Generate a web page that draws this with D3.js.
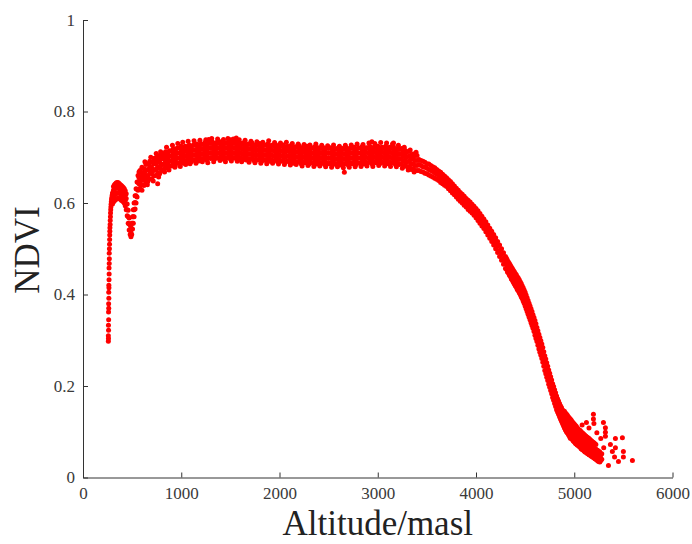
<!DOCTYPE html>
<html>
<head>
<meta charset="utf-8">
<script src="https://cdn.jsdelivr.net/npm/d3@7"></script>
<style>
  html, body { margin: 0; padding: 0; background: #fff; }
  svg { display: block; }
</style>
</head>
<body>
<svg id="chart" width="692" height="544"></svg>
<script>
// ---------- DATA ----------
const xTicks = [0, 1000, 2000, 3000, 4000, 5000, 6000];
const yTicks = [0, 0.2, 0.4, 0.6, 0.8, 1];
const xTitle = "Altitude/masl";
const yTitle = "NDVI";

// steep rise at the lowest altitudes: [altitude, NDVI]
const riseColumn = [
  [258,0.298],[259,0.304],[258,0.31],[260,0.322],[259,0.333],[261,0.345],[260,0.362],[262,0.37],
  [261,0.38],[263,0.392],[262,0.405],[264,0.415],[263,0.42],[265,0.432],[266,0.445],[265,0.458],
  [267,0.468],[268,0.478],[267,0.49],[269,0.5],[270,0.51],[271,0.52],[272,0.53],[273,0.538],
  [274,0.546],[276,0.553],[277,0.562],[279,0.57],[280,0.578],[282,0.585],[284,0.591],[286,0.597],
  [288,0.603],[291,0.608],[294,0.612],[297,0.617]
];

// rows: [altitude, NDVI values observed at that altitude ...]
const lowlandRows = [
  [300,0.598,0.61,0.622],[310,0.602,0.615,0.628,0.636],[320,0.605,0.618,0.63,0.64],
  [330,0.607,0.62,0.632,0.642],[340,0.609,0.621,0.633,0.644],[350,0.61,0.622,0.634,0.645],
  [360,0.611,0.623,0.635,0.644],[370,0.61,0.622,0.633,0.642],[380,0.608,0.62,0.631,0.64],
  [390,0.606,0.618,0.629,0.638],[400,0.605,0.616,0.627,0.636],[410,0.603,0.614,0.625,0.634],
  [420,0.6,0.611,0.622,0.631],[430,0.594,0.606,0.617,0.627],[440,0.585,0.598,0.61,0.62],
  [450,0.572,0.585,0.598],[460,0.556,0.57,0.584],[470,0.541,0.554,0.567],[480,0.531,0.541,0.552],
  [488,0.526,0.535,0.546],[496,0.531,0.543,0.556],[504,0.543,0.556,0.57],[512,0.556,0.57,0.585],
  [520,0.57,0.585,0.6],[530,0.587,0.601,0.616],[540,0.6,0.616,0.631],[550,0.613,0.63,0.646],
  [560,0.628,0.645,0.66],[570,0.63,0.642,0.655,0.668]
];

const plateauRows = [
  [580,0.632,0.645,0.658,0.671],[600,0.64,0.653,0.666,0.678],[620,0.638,0.65,0.663,0.675],
  [640,0.646,0.659,0.672,0.684],[660,0.647,0.66,0.673,0.686],[680,0.653,0.666,0.679,0.691],
  [700,0.652,0.664,0.677,0.689],[720,0.659,0.672,0.685,0.697],[740,0.66,0.673,0.686,0.699],
  [760,0.666,0.679,0.692,0.704,0.642],[780,0.664,0.676,0.689,0.701],[800,0.671,0.684,0.697,0.709],
  [820,0.674,0.685,0.696,0.707],[840,0.679,0.69,0.701,0.712],[860,0.676,0.687,0.698,0.708],
  [880,0.682,0.693,0.704,0.714],[900,0.681,0.692,0.703,0.714],[920,0.686,0.697,0.708,0.719],
  [940,0.682,0.693,0.704,0.714],[960,0.688,0.699,0.71,0.72],[980,0.687,0.698,0.709,0.72],
  [1000,0.691,0.702,0.713,0.724],[1020,0.687,0.698,0.709,0.719],[1040,0.692,0.703,0.714,0.724],
  [1060,0.69,0.701,0.712,0.723],[1080,0.694,0.705,0.716,0.727],[1100,0.69,0.701,0.712,0.722],
  [1120,0.694,0.705,0.716,0.726],[1140,0.693,0.704,0.715,0.726],[1160,0.696,0.707,0.718,0.729],
  [1180,0.692,0.703,0.714,0.724],[1200,0.697,0.708,0.719,0.729],[1220,0.695,0.706,0.717,0.728],
  [1240,0.699,0.71,0.721,0.732],[1260,0.694,0.705,0.716,0.726],[1280,0.699,0.71,0.721,0.731,0.739],
  [1300,0.697,0.708,0.719,0.73],[1320,0.7,0.711,0.722,0.733],[1340,0.696,0.707,0.718,0.728],
  [1360,0.7,0.711,0.722,0.732],[1380,0.698,0.709,0.72,0.731],[1400,0.701,0.712,0.723,0.734],
  [1420,0.696,0.707,0.718,0.728],[1440,0.7,0.711,0.722,0.732],[1460,0.698,0.709,0.72,0.731],
  [1480,0.701,0.712,0.723,0.734],[1500,0.696,0.707,0.718,0.728,0.738],[1520,0.7,0.711,0.722,0.732],
  [1540,0.698,0.709,0.72,0.731],[1560,0.701,0.712,0.723,0.734,0.742],[1580,0.695,0.706,0.717,0.727],
  [1600,0.699,0.71,0.721,0.731],[1620,0.696,0.707,0.718,0.729],[1640,0.699,0.71,0.721,0.732],
  [1660,0.694,0.705,0.716,0.726],[1680,0.697,0.708,0.719,0.729],[1700,0.695,0.706,0.717,0.728],
  [1720,0.698,0.709,0.72,0.731],[1740,0.693,0.704,0.715,0.725],[1760,0.696,0.707,0.718,0.728],
  [1780,0.694,0.705,0.716,0.727],[1800,0.697,0.708,0.719,0.73],[1820,0.692,0.703,0.714,0.724],
  [1840,0.695,0.706,0.717,0.727],[1860,0.693,0.704,0.715,0.726],[1880,0.696,0.707,0.718,0.729],
  [1900,0.691,0.702,0.713,0.723],[1920,0.694,0.705,0.716,0.726],[1940,0.692,0.703,0.714,0.725],
  [1960,0.695,0.706,0.717,0.728],[1980,0.69,0.701,0.712,0.722],[2000,0.694,0.705,0.716,0.726],
  [2020,0.691,0.702,0.713,0.724],[2040,0.694,0.705,0.716,0.727],[2060,0.689,0.7,0.711,0.721],
  [2080,0.692,0.703,0.714,0.724],[2100,0.69,0.701,0.712,0.723],[2120,0.693,0.704,0.715,0.726],
  [2140,0.687,0.698,0.709,0.719],[2160,0.691,0.702,0.713,0.723],[2180,0.689,0.7,0.711,0.722],
  [2200,0.692,0.703,0.714,0.725],[2220,0.686,0.697,0.708,0.718],[2240,0.69,0.701,0.712,0.722],
  [2260,0.688,0.699,0.71,0.721],[2280,0.691,0.702,0.713,0.724],[2300,0.685,0.696,0.707,0.717],
  [2320,0.689,0.7,0.711,0.721],[2340,0.687,0.698,0.709,0.72],[2360,0.69,0.701,0.712,0.723],
  [2380,0.685,0.696,0.707,0.717],[2400,0.689,0.7,0.711,0.721],[2420,0.686,0.697,0.708,0.719],
  [2440,0.689,0.7,0.711,0.722],[2460,0.684,0.695,0.706,0.716],[2480,0.688,0.699,0.71,0.72],
  [2500,0.686,0.697,0.708,0.719],[2520,0.688,0.699,0.71,0.721],[2540,0.683,0.694,0.705,0.715],
  [2560,0.687,0.698,0.709,0.719],[2580,0.685,0.696,0.707,0.718],[2600,0.688,0.699,0.71,0.721],
  [2620,0.683,0.694,0.705,0.715],[2640,0.687,0.698,0.709,0.719],[2660,0.685,0.696,0.707,0.718,0.667],
  [2680,0.688,0.699,0.71,0.721],[2700,0.683,0.694,0.705,0.715],[2720,0.688,0.699,0.71,0.72],
  [2740,0.686,0.697,0.708,0.719],[2760,0.689,0.7,0.711,0.722],[2780,0.684,0.695,0.706,0.716],
  [2800,0.688,0.699,0.71,0.72],[2820,0.687,0.698,0.709,0.72],[2840,0.69,0.701,0.712,0.723],
  [2860,0.685,0.696,0.707,0.717],[2880,0.689,0.7,0.711,0.721],[2900,0.688,0.699,0.71,0.721],
  [2920,0.691,0.702,0.713,0.724],[2940,0.686,0.697,0.708,0.718,0.734],[2960,0.69,0.701,0.712,0.722],
  [2980,0.688,0.699,0.71,0.721],[3000,0.691,0.702,0.713,0.724],[3020,0.686,0.697,0.708,0.718],
  [3040,0.69,0.701,0.712,0.722],[3060,0.688,0.699,0.71,0.721],[3080,0.691,0.702,0.713,0.724],
  [3100,0.686,0.697,0.708,0.718],[3120,0.69,0.701,0.712,0.722],[3140,0.688,0.699,0.71,0.721],
  [3160,0.69,0.701,0.712,0.723,0.731],[3180,0.684,0.695,0.706,0.716],[3200,0.687,0.698,0.709,0.719],
  [3220,0.684,0.695,0.706,0.717],[3240,0.686,0.697,0.708,0.719],[3260,0.68,0.691,0.702,0.712],
  [3280,0.683,0.694,0.705,0.715],[3300,0.679,0.69,0.701,0.712],[3320,0.68,0.691,0.702,0.713],
  [3340,0.673,0.684,0.695,0.705],[3360,0.675,0.686,0.697,0.707],[3380,0.671,0.682,0.693,0.704],
  [3400,0.671,0.682,0.693,0.704]
];

// irregular points along the edges of the plateau band
const plateauScatter = [
  [590,0.652],[610,0.66],[630,0.668],[650,0.654],[670,0.685],[690,0.672],[710,0.67],[730,0.69],
  [750,0.675],[770,0.695],[790,0.682],[810,0.7],
  [600,0.628],[630,0.69],[655,0.64],[690,0.7],[715,0.648],[745,0.708],[770,0.657],[790,0.712],
  [830,0.668],[850,0.722],[875,0.672],[910,0.726],[935,0.678],[965,0.73],[990,0.68],[1015,0.733],
  [1045,0.684],[1070,0.735],[1090,0.686],[1130,0.736],[1150,0.687],[1190,0.737],[1215,0.69],
  [1250,0.738],[1270,0.688],[1310,0.741],[1330,0.69],[1370,0.74],[1395,0.693],[1430,0.739],
  [1450,0.69],[1475,0.741],[1510,0.692],[1530,0.74],[1570,0.691],[1590,0.738],[1615,0.69],
  [1650,0.737],[1690,0.689],[1710,0.735],[1750,0.688],[1770,0.734],[1810,0.687],[1830,0.733],
  [1870,0.686],[1890,0.736],[1930,0.687],[1950,0.732],[1990,0.685],[2010,0.731],[2050,0.684],
  [2070,0.733],[2110,0.683],[2130,0.73],[2170,0.684],[2190,0.729],[2230,0.681],[2250,0.728],
  [2290,0.682],[2310,0.727],[2350,0.68],[2370,0.729],[2410,0.681],[2430,0.726],[2470,0.679],
  [2490,0.725],[2530,0.678],[2550,0.727],[2590,0.679],[2610,0.724],[2650,0.677],[2670,0.726],
  [2710,0.678],[2730,0.727],[2770,0.679],[2790,0.729],[2830,0.68],[2850,0.728],[2890,0.681],
  [2910,0.731],[2950,0.68],[2970,0.73],[3010,0.682],[3030,0.732],[3070,0.681],[3090,0.731],
  [3130,0.68],[3150,0.729],[3190,0.679],[3210,0.726],[3250,0.676],[3270,0.722],[3310,0.672],
  [3330,0.716],[3370,0.668],[3390,0.711]
];

const declineRows = [
  [3420,0.671,0.684,0.695],[3440,0.669,0.682,0.693],[3460,0.668,0.679,0.691],[3480,0.665,0.678,0.689],
  [3500,0.664,0.676,0.686],[3520,0.661,0.673,0.685],[3540,0.659,0.671,0.682],[3560,0.657,0.669,0.679],
  [3580,0.654,0.666,0.677],[3600,0.652,0.663,0.673],[3620,0.649,0.66,0.67],[3640,0.645,0.656,0.667],
  [3660,0.642,0.653,0.663],[3680,0.639,0.65,0.659],[3700,0.636,0.646,0.655],[3720,0.631,0.642,0.651],
  [3740,0.627,0.637,0.647],[3760,0.622,0.633,0.642],[3780,0.618,0.628,0.637],[3800,0.613,0.623,0.632],
  [3820,0.608,0.619,0.628],[3840,0.604,0.614,0.623],[3860,0.6,0.61,0.619],[3880,0.595,0.605,0.615],
  [3900,0.591,0.601,0.61],[3920,0.586,0.597,0.606],[3940,0.582,0.592,0.602],[3960,0.578,0.588,0.597],
  [3980,0.573,0.583,0.593],[4000,0.568,0.579,0.588],[4020,0.562,0.573,0.583],[4040,0.556,0.567,0.577],
  [4060,0.55,0.561,0.571],[4080,0.544,0.555,0.565],[4100,0.537,0.548,0.559],[4120,0.53,0.542,0.552],
  [4140,0.523,0.535,0.545],[4160,0.516,0.528,0.538],[4180,0.508,0.52,0.531],[4200,0.5,0.513,0.524],
  [4220,0.492,0.505,0.516],[4240,0.483,0.496,0.508],[4260,0.475,0.488,0.5],[4280,0.466,0.479,0.491],
  [4300,0.457,0.471,0.483],[4320,0.449,0.463,0.475],[4340,0.442,0.456,0.468],[4360,0.434,0.448,0.46],
  [4380,0.427,0.441,0.453],[4400,0.419,0.433,0.446],[4420,0.411,0.426,0.439],[4440,0.404,0.419,0.432],
  [4460,0.395,0.41,0.424],[4480,0.386,0.401,0.415],[4500,0.375,0.391,0.405],[4520,0.363,0.379,0.393],
  [4540,0.351,0.367,0.381],[4560,0.338,0.354,0.369],[4580,0.326,0.342,0.356],[4600,0.311,0.328,0.343],
  [4620,0.297,0.313,0.328],[4640,0.281,0.298,0.313],[4660,0.267,0.284,0.299],[4680,0.252,0.269,0.284],
  [4700,0.234,0.251,0.266],[4720,0.219,0.236,0.251],[4740,0.204,0.221,0.235],[4760,0.19,0.206,0.22],
  [4780,0.175,0.191,0.205],[4800,0.162,0.178,0.192],[4820,0.148,0.164,0.178],[4840,0.138,0.153,0.167],
  [4860,0.128,0.143,0.157],[4880,0.118,0.134,0.148],
  [4310,0.455,0.467,0.479],[4330,0.447,0.46,0.471],[4350,0.439,0.452,0.464],[4370,0.431,0.445,0.457],
  [4390,0.423,0.437,0.45],[4410,0.416,0.43,0.443],[4430,0.408,0.423,0.436],[4450,0.4,0.415,0.428],
  [4470,0.391,0.406,0.419],[4490,0.381,0.396,0.41],[4510,0.369,0.385,0.399],[4530,0.357,0.373,0.387],
  [4550,0.345,0.361,0.375],[4570,0.332,0.348,0.363],[4590,0.319,0.335,0.35],[4610,0.304,0.321,0.336],
  [4630,0.289,0.306,0.321],[4650,0.274,0.291,0.306],[4670,0.26,0.277,0.292],[4690,0.243,0.26,0.275],
  [4710,0.227,0.244,0.259],[4730,0.212,0.229,0.243],[4750,0.197,0.214,0.228],[4770,0.183,0.199,0.213],
  [4790,0.169,0.185,0.199],[4810,0.155,0.171,0.185],[4830,0.143,0.159,0.172],[4850,0.133,0.148,0.162],
  [4870,0.123,0.139,0.153],[4890,0.113,0.128,0.142]
];

const tailRows = [
  [4900,0.108,0.12,0.133,0.145],[4920,0.1,0.112,0.126,0.139],[4940,0.094,0.107,0.119,0.133],
  [4960,0.086,0.1,0.113,0.128],[4980,0.083,0.095,0.108,0.122],[5000,0.078,0.09,0.103,0.117],
  [5020,0.073,0.086,0.097,0.112],[5040,0.07,0.081,0.093,0.106],[5060,0.066,0.077,0.089,0.103],
  [5080,0.061,0.073,0.085,0.098],[5100,0.058,0.069,0.08,0.094],[5120,0.055,0.066,0.078,0.09],
  [5140,0.052,0.062,0.074,0.087],[5160,0.049,0.059,0.07,0.083],[5180,0.046,0.057,0.068,0.079],
  [5200,0.043,0.054,0.065,0.076],[5220,0.04,0.051,0.062,0.072],[5240,0.036,0.048,0.059],
  [5260,0.034,0.045,0.056],[5280,0.04,0.052],
  [4910,0.104,0.116,0.129,0.141],[4930,0.097,0.11,0.122,0.136],[4950,0.09,0.103,0.116,0.13],
  [4970,0.085,0.097,0.11,0.125],[4990,0.08,0.093,0.105,0.119],[5010,0.075,0.088,0.1,0.114],
  [5030,0.071,0.083,0.095,0.109],[5050,0.068,0.079,0.091,0.104],[5070,0.063,0.075,0.087,0.1],
  [5090,0.06,0.071,0.083,0.096],[5110,0.056,0.067,0.079,0.092],[5130,0.053,0.064,0.076,0.088],
  [5150,0.05,0.061,0.072,0.085],[5170,0.047,0.058,0.069,0.081],[5190,0.044,0.055,0.066,0.077],
  [5210,0.041,0.052,0.063,0.074],[5230,0.038,0.05,0.06],[5250,0.035,0.046,0.057],[5270,0.037,0.049]
];

const tailOutliers = [
  [5195,0.138],[5195,0.128],[5200,0.118],[5124,0.12],[5080,0.115],[5150,0.108],[5230,0.098],
  [5297,0.12],[5317,0.109],[5317,0.099],[5317,0.09],[5368,0.072],[5419,0.085],[5419,0.065],
  [5490,0.087],[5500,0.057],[5592,0.037],[5450,0.035],[5348,0.026],[5236,0.046],[5270,0.085],
  [5300,0.065],[5388,0.057],[5410,0.045],[5500,0.045]
];

// ---------- CHART ----------
(function () {
  const rowsToPoints = rows => rows.flatMap(([alt, ...vals]) => vals.map(v => [alt, v]));
  const points = [
    ...riseColumn,
    ...rowsToPoints(lowlandRows),
    ...rowsToPoints(plateauRows),
    ...plateauScatter,
    ...rowsToPoints(declineRows),
    ...rowsToPoints(tailRows),
    ...tailOutliers
  ];

  const svg = d3.select("#chart");
  const mLeft = 83, mRight = 672.5, mTop = 20, mBottom = 477.5;

  const x = d3.scaleLinear().domain([0, 6000]).range([mLeft, mRight]);
  const y = d3.scaleLinear().domain([0, 1]).range([mBottom, mTop]);

  const font = "'Liberation Serif', 'Times New Roman', Times, serif";

  svg.append("g")
    .selectAll("circle")
    .data(points)
    .join("circle")
    .attr("cx", d => x(d[0]))
    .attr("cy", d => y(d[1]))
    .attr("r", 2.5)
    .attr("fill", "#ff0000");

  const xAxis = svg.append("g")
    .attr("transform", `translate(0,${mBottom})`)
    .call(d3.axisBottom(x).tickValues(xTicks).tickFormat(d => String(d))
      .tickSizeInner(-5).tickSizeOuter(0).tickPadding(9));

  const yAxis = svg.append("g")
    .attr("transform", `translate(${mLeft},0)`)
    .call(d3.axisLeft(y).tickValues(yTicks).tickFormat(d => String(d))
      .tickSizeInner(-5).tickSizeOuter(0).tickPadding(8));

  [xAxis, yAxis].forEach(g => {
    g.attr("font-family", font).attr("font-size", 17);
    g.select(".domain").attr("stroke", "#333").attr("stroke-width", 1);
    g.selectAll(".tick line").attr("stroke", "#333").attr("stroke-width", 1);
    g.selectAll(".tick text")
      .attr("fill", "#3a3a3a")
      .attr("font-family", font)
      .style("font-family", font)
      .style("font-size", "17px");
  });

  svg.append("text")
    .attr("x", (mLeft + mRight) / 2)
    .attr("y", 535)
    .attr("text-anchor", "middle")
    .attr("fill", "#222")
    .style("font-family", font)
    .style("font-size", "35px")
    .text(xTitle);

  svg.append("text")
    .attr("transform", `translate(39,250) rotate(-90)`)
    .attr("text-anchor", "middle")
    .attr("fill", "#222")
    .style("font-family", font)
    .style("font-size", "35px")
    .text(yTitle);
})();
</script>
</body>
</html>
